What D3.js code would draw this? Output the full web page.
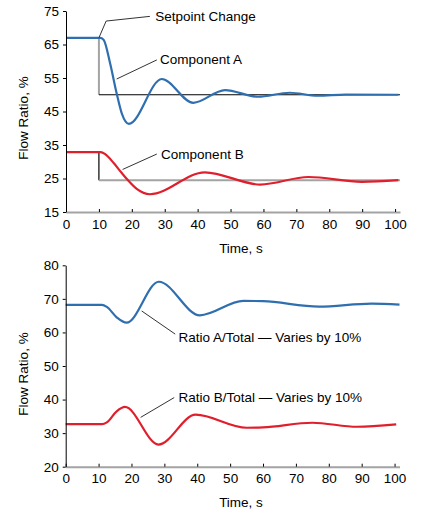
<!DOCTYPE html>
<html>
<head>
<meta charset="utf-8">
<script src="https://cdn.jsdelivr.net/npm/d3@7"></script>
<style>
  body { margin: 0; background: #fff; }
  svg { font-family: "Liberation Sans", Arial, sans-serif; }
  .tick text { font-size: 13.5px; fill: #000; }
</style>
</head>
<body>
<svg id="chart" width="423" height="515"></svg>
<script>
// top panel: component flows after a setpoint change, [time s, flow %]
const compA = [[0, 67], [10.5, 67], [11.5, 66.3], [13.4, 59.4], [15.4, 50.4], [17, 44.3],
  [19.1, 41.3], [29.1, 54.7], [38.7, 47.6], [48.3, 51.4],
  [58.3, 49.4], [68, 50.6], [76.5, 49.7], [85, 50.05], [101, 50]];
const compB = [[0, 32.9], [10.5, 32.9], [12, 32.2], [14.5, 29.6], [16.9, 26.7], [19, 24.3],
  [21.5, 21.9], [25.5, 20.3], [42.2, 26.85], [59, 23.2],
  [73.7, 25.45], [89.9, 24], [101, 24.5]];
const setA = [[10, 67], [10, 50], [101.5, 50]];
const setB = [[10, 32.9], [10, 24.5], [101.5, 24.5]];

// bottom panel: ratio of each component to total
const ratioA = [[0, 68.2], [11, 68.2], [12.5, 67.6], [15.5, 64.5], [18.5, 62.9],
  [28.3, 75.1], [40.8, 65.1], [54, 69.4],
  [60, 69.3], [77, 67.7], [93, 68.6], [101.5, 68.3]];
const ratioB = [[0, 32.7], [11, 32.7], [12.5, 33.2], [15.5, 36.5], [18, 37.8],
  [28.2, 26.6], [39.5, 35.5], [55, 31.6],
  [60, 31.7], [75, 33.1], [88.6, 31.9], [100.5, 32.6]];

const xTicks = [0, 10, 20, 30, 40, 50, 60, 70, 80, 90, 100];
const yTicksTop = [15, 25, 35, 45, 55, 65, 75];
const yTicksBottom = [20, 30, 40, 50, 60, 70, 80];

// callouts: leader polyline + label position, in data units
const notesTop = [
  { text: "Setpoint Change", line: [[10, 67], [12.2, 72], [25.5, 73.4]], at: [27.1, 73.5] },
  { text: "Component A", line: [[15.4, 54.7], [27.6, 60.4]], at: [28.6, 60.6] },
  { text: "Component B", line: [[17.2, 27.7], [27.6, 32.3]], at: [28.9, 32.3] }
];
const notesBottom = [
  { text: "Ratio A/Total \u2014 Varies by 10%", line: [[23.1, 66.4], [33.3, 59.5]], at: [34.3, 58.6] },
  { text: "Ratio B/Total \u2014 Varies by 10%", line: [[22.8, 34.7], [33, 40.6]], at: [34.3, 40.7] }
];

const blue = "#2f6fb0";
const red = "#e01f2d";
const grey = "#a3a3a3";

const svg = d3.select("#chart");

function panel(cfg) {
  const x = d3.scaleLinear().domain([0, 101.5]).range(cfg.xr);
  const y = d3.scaleLinear().domain(cfg.yd).range(cfg.yr);
  const g = svg.append("g");
  const line = d3.line().x((d) => x(d[0])).y((d) => y(d[1]));
  const smooth = d3.line().x((d) => x(d[0])).y((d) => y(d[1])).curve(d3.curveMonotoneX);

  // setpoint steps (vertical and horizontal parts use different greys)
  (cfg.steps || []).forEach((s) => {
    g.append("path").attr("d", line(s.pts.slice(0, 2)))
      .attr("fill", "none").attr("stroke", s.vert).attr("stroke-width", s.vert === "#000" ? 1.2 : 2);
    g.append("path").attr("d", line(s.pts.slice(1)))
      .attr("fill", "none").attr("stroke", s.horz).attr("stroke-width", s.horz === "#000" ? 1.2 : 2);
  });

  cfg.series.forEach((s) => {
    g.append("path").attr("d", smooth(s.data))
      .attr("fill", "none").attr("stroke", s.color).attr("stroke-width", 2.2);
  });

  cfg.notes.forEach((n) => {
    g.append("path").attr("d", line(n.line))
      .attr("fill", "none").attr("stroke", "#333").attr("stroke-width", 1);
    g.append("text").attr("x", x(n.at[0])).attr("y", y(n.at[1]))
      .attr("dy", "0.35em").attr("font-size", 13.5).text(n.text);
  });

  // x axis: grey baseline, small black ticks pointing up
  const xa = g.append("g").attr("transform", `translate(0,${cfg.yr[0]})`)
    .call(d3.axisBottom(x).tickValues(xTicks).tickSizeInner(-3).tickSizeOuter(0).tickPadding(7));
  xa.select(".domain").attr("stroke", grey).attr("stroke-width", 2);
  xa.selectAll(".tick line").attr("stroke", "#000");

  const ya = g.append("g").attr("transform", `translate(${cfg.xr[0]},0)`)
    .call(d3.axisLeft(y).tickValues(cfg.yTicks).tickSizeInner(3).tickSizeOuter(0).tickPadding(4));
  ya.select(".domain").attr("stroke", "#000");

  g.append("text").attr("x", 241).attr("y", cfg.xTitleY)
    .attr("text-anchor", "middle").attr("font-size", 13.5).text("Time, s");
  g.append("text").attr("transform", `translate(23,${cfg.yTitleY}) rotate(-90)`)
    .attr("text-anchor", "middle").attr("dy", "0.35em").attr("font-size", 13.5).text("Flow Ratio, %");
}

panel({
  xr: [66, 400], yd: [15, 75], yr: [212, 11], yTicks: yTicksTop,
  xTitleY: 253, yTitleY: 118,
  steps: [
    { pts: setA, vert: grey, horz: "#000" },
    { pts: setB, vert: "#000", horz: grey }
  ],
  series: [{ data: compA, color: blue }, { data: compB, color: red }],
  notes: notesTop
});

panel({
  xr: [65.7, 399.5], yd: [20, 80], yr: [466.7, 265.3], yTicks: yTicksBottom,
  xTitleY: 507, yTitleY: 374,
  series: [{ data: ratioA, color: blue }, { data: ratioB, color: red }],
  notes: notesBottom
});
</script>
</body>
</html>
